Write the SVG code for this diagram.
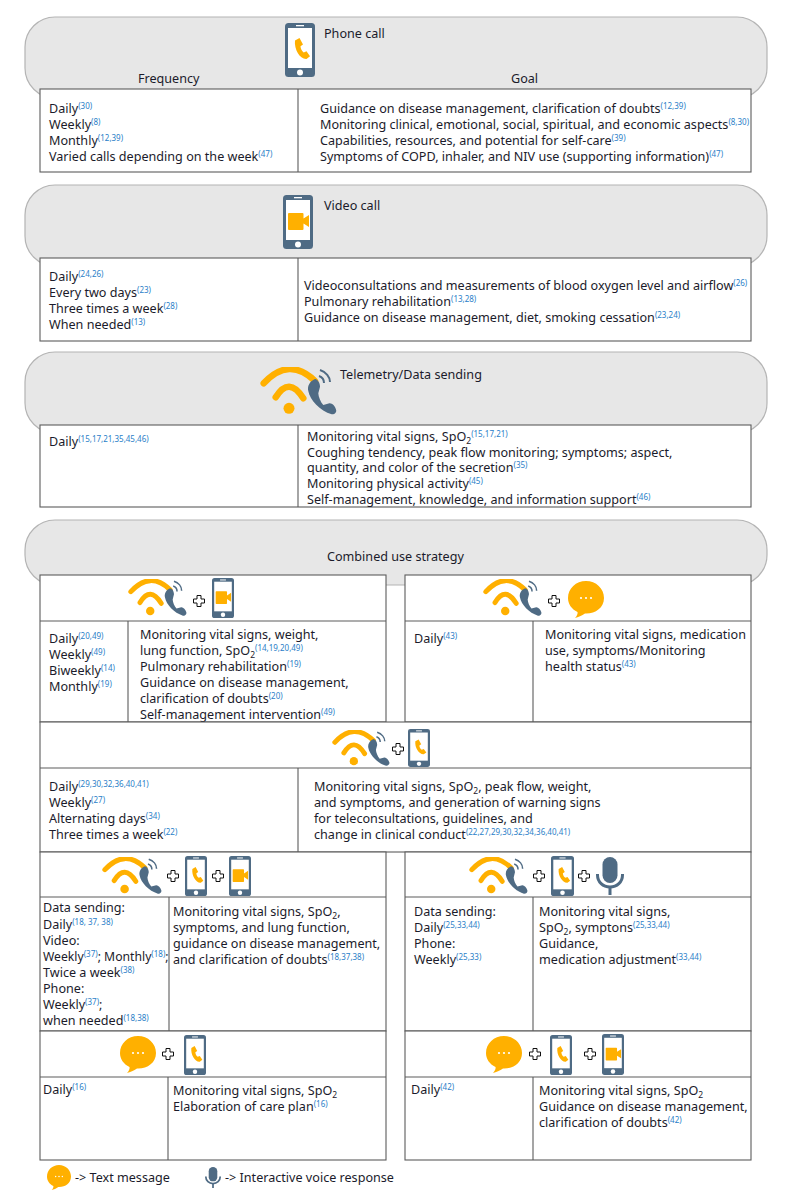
<svg xmlns="http://www.w3.org/2000/svg" width="788" height="1198" viewBox="0 0 788 1198">
<style>
text{font-family:"Noto Sans","Liberation Sans",sans-serif;font-size:12.6px;fill:#1b1b2b}
.r{font-size:8px;fill:#2a80c8}
.s{font-size:8.5px}
.panel{fill:#e7e7e7;stroke:#b4b4b4;stroke-width:1.2}
.box{fill:#fff;stroke:#5c5c5c;stroke-width:1.1}
.ln{fill:none;stroke:#5c5c5c;stroke-width:1.1}
</style>
<defs>
<symbol id="phone" viewBox="0 0 30 54" preserveAspectRatio="none">
<rect width="30" height="54" rx="3.5" fill="#4f6b84"/><rect x="3" y="5" width="24" height="40" fill="#fff"/><rect x="11" y="2" width="8" height="1.3" fill="#fff"/><circle cx="15" cy="49.5" r="3" fill="#fff"/>
<path d="M10 17.500l4.500-2.500 3.500 6.500-2.500 1.800c0 2.500 1.500 5 3.200 6.200l2.800-1.200 3.500 5-3.500 2.700c-6.500.5-12.500-9.500-11.500-18.500z" fill="#ffb000"/>
</symbol>
<symbol id="video" viewBox="0 0 30 54" preserveAspectRatio="none">
<rect width="30" height="54" rx="3.5" fill="#4f6b84"/><rect x="3" y="5" width="24" height="40" fill="#fff"/><rect x="11" y="2" width="8" height="1.3" fill="#fff"/><circle cx="15" cy="49.5" r="3" fill="#fff"/>
<path d="M6 18h13.500a1 1 0 0 1 1 1v4.500l5.500-3.500v12l-5.500-3.500v5.500a1 1 0 0 1-1 1H6a1 1 0 0 1-1-1V19a1 1 0 0 1 1-1z" fill="#ffb000"/>
</symbol>
<symbol id="wifi" viewBox="0 0 77 49" preserveAspectRatio="none">
<path d="M3.700 16.300Q29-11 55 14M15.700 30.300Q29 8.600 43.300 31.300" fill="none" stroke="#ffb000" stroke-width="6.500" stroke-linecap="round"/>
<circle cx="29" cy="41.300" r="5.500" fill="#ffb000"/>
<path d="M55 12C50 14 47 19 48.300 24C50 33 60 44 71.700 47.300C75 47.500 77 45 76 42.500C75 39 72 36 69.500 36.300L63.300 38C60.500 35 58.500 30 58.300 26.300L60 19.700C60 16 58 12.500 55 12z" fill="#4f6b84"/>
<path d="M60 3C66 5 70 10 70 15M59 9C62 10 64 13 64 16" fill="none" stroke="#4f6b84" stroke-width="2"/>
</symbol>
<symbol id="bubble" viewBox="0 0 36 37" preserveAspectRatio="none">
<path d="M18 0C28 0 36 7.500 36 17C36 27 27 33 17 32.500C14 34.500 10 36.500 7 37C9 35 10 32.500 9.500 31C3.500 28 0 23 0 17C0 7.500 8 0 18 0z" fill="#ffb000"/>
<circle cx="13" cy="17" r="1.100" fill="#fff"/><circle cx="18" cy="17" r="1.100" fill="#fff"/><circle cx="23" cy="17" r="1.100" fill="#fff"/>
</symbol>
<symbol id="mic" viewBox="0 0 28 38" preserveAspectRatio="none">
<rect x="6.500" y="0" width="15" height="26" rx="7.500" fill="#4f6b84"/>
<path d="M1.500 17V18C1.500 25 7 30 14 30S26.500 25 26.500 18V17" fill="none" stroke="#4f6b84" stroke-width="3"/>
<rect x="12.500" y="30" width="3" height="8" fill="#4f6b84"/>
</symbol>
<path id="plus" d="M-2-5.500H2V-2H5.500V2H2V5.500H-2V2H-5.500V-2H-2z" fill="#fff" stroke="#111" stroke-width="1"/>
</defs>
<rect width="788" height="1198" fill="#fff"/>

<g id="phone-call">
<rect class="panel" x="25" y="17" width="742" height="81" rx="30"/>
<use href="#phone" x="285" y="23" width="30" height="54"/>
<text x="324" y="38">Phone call</text>
<text x="138" y="83">Frequency</text>
<text x="511" y="83">Goal</text>
<rect class="box" x="40" y="89" width="711" height="83"/>
<path class="ln" d="M298 89V172"/>
<text x="49" y="112.500">Daily<tspan class="r" dy="-4">(30)</tspan></text>
<text x="49" y="128.500">Weekly<tspan class="r" dy="-4">(8)</tspan></text>
<text x="49" y="144.500">Monthly<tspan class="r" dy="-4">(12,39)</tspan></text>
<text x="49" y="160.500">Varied calls depending on the week<tspan class="r" dy="-4">(47)</tspan></text>
<text x="320" y="112.500">Guidance on disease management, clarification of doubts<tspan class="r" dy="-4">(12,39)</tspan></text>
<text x="320" y="128.500">Monitoring clinical, emotional, social, spiritual, and economic aspects<tspan class="r" dy="-4">(8,30)</tspan></text>
<text x="320" y="144.500">Capabilities, resources, and potential for self-care<tspan class="r" dy="-4">(39)</tspan></text>
<text x="320" y="160.500">Symptoms of COPD, inhaler, and NIV use (supporting information)<tspan class="r" dy="-4">(47)</tspan></text>
</g>

<g id="video-call">
<rect class="panel" x="25" y="185" width="742" height="81" rx="30"/>
<use href="#video" x="283" y="195" width="30" height="54"/>
<text x="324" y="210">Video call</text>
<rect class="box" x="40" y="258" width="711" height="83"/>
<path class="ln" d="M298 258V341"/>
<text x="49" y="280.500">Daily<tspan class="r" dy="-4">(24,26)</tspan></text>
<text x="49" y="296.500">Every two days<tspan class="r" dy="-4">(23)</tspan></text>
<text x="49" y="312.500">Three times a week<tspan class="r" dy="-4">(28)</tspan></text>
<text x="49" y="328.500">When needed<tspan class="r" dy="-4">(13)</tspan></text>
<text x="304" y="289.500">Videoconsultations and measurements of blood oxygen level and airflow<tspan class="r" dy="-4">(26)</tspan></text>
<text x="304" y="305.500">Pulmonary rehabilitation<tspan class="r" dy="-4">(13,28)</tspan></text>
<text x="304" y="321.500">Guidance on disease management, diet, smoking cessation<tspan class="r" dy="-4">(23,24)</tspan></text>
</g>

<g id="telemetry">
<rect class="panel" x="25" y="352" width="742" height="81" rx="30"/>
<use href="#wifi" x="260" y="367" width="77" height="49"/>
<text x="340" y="379">Telemetry/Data sending</text>
<rect class="box" x="40" y="425" width="711" height="82"/>
<path class="ln" d="M298 425V507"/>
<text x="49" y="445.500">Daily<tspan class="r" dy="-4">(15,17,21,35,45,46)</tspan></text>
<text x="307" y="440.500">Monitoring vital signs, SpO<tspan class="s" dy="3">2</tspan><tspan class="r" dy="-7">(15,17,21)</tspan></text>
<text x="307" y="456.500">Coughing tendency, peak flow monitoring; symptoms; aspect,</text>
<text x="307" y="471.500">quantity, and color of the secretion<tspan class="r" dy="-4">(35)</tspan></text>
<text x="307" y="487.500">Monitoring physical activity<tspan class="r" dy="-4">(45)</tspan></text>
<text x="307" y="503.500">Self-management, knowledge, and information support<tspan class="r" dy="-4">(46)</tspan></text>
</g>

<g id="combined-header">
<rect class="panel" x="25" y="520" width="742" height="65" rx="30"/>
<text x="327" y="561">Combined use strategy</text>
</g>

<g id="combo-telemetry-video">
<rect class="box" x="40" y="575" width="346" height="147"/>
<path class="ln" d="M40 621H386M128 621V722"/>
<use href="#wifi" x="128" y="579" width="59" height="38"/>
<use href="#plus" transform="translate(199 601)"/>
<use href="#video" x="212" y="578" width="22" height="40"/>
<text x="49" y="642.500">Daily<tspan class="r" dy="-4">(20,49)</tspan></text>
<text x="49" y="658.500">Weekly<tspan class="r" dy="-4">(49)</tspan></text>
<text x="49" y="674.500">Biweekly<tspan class="r" dy="-4">(14)</tspan></text>
<text x="49" y="690.500">Monthly<tspan class="r" dy="-4">(19)</tspan></text>
<text x="140" y="638.500">Monitoring vital signs, weight,</text>
<text x="140" y="654.500">lung function, SpO<tspan class="s" dy="3">2</tspan><tspan class="r" dy="-7">(14,19,20,49)</tspan></text>
<text x="140" y="670.500">Pulmonary rehabilitation<tspan class="r" dy="-4">(19)</tspan></text>
<text x="140" y="686.500">Guidance on disease management,</text>
<text x="140" y="702.500">clarification of doubts<tspan class="r" dy="-4">(20)</tspan></text>
<text x="140" y="718.500">Self-management intervention<tspan class="r" dy="-4">(49)</tspan></text>
</g>

<g id="combo-telemetry-text">
<rect class="box" x="405" y="575" width="346" height="147"/>
<path class="ln" d="M405 621H751M533 621V723.500M405 722V723.500H533"/>
<use href="#wifi" x="483" y="579" width="59" height="38"/>
<use href="#plus" transform="translate(554 601)"/>
<use href="#bubble" x="568" y="581" width="36" height="37"/>
<text x="414" y="642.500">Daily<tspan class="r" dy="-4">(43)</tspan></text>
<text x="545" y="638.500">Monitoring vital signs, medication</text>
<text x="545" y="654.500">use, symptoms/Monitoring</text>
<text x="545" y="670.500">health status<tspan class="r" dy="-4">(43)</tspan></text>
</g>

<g id="combo-telemetry-phone">
<rect class="box" x="40" y="722" width="711" height="130"/>
<path class="ln" d="M40 768H751M298 768V852"/>
<use href="#wifi" x="332" y="730" width="58" height="37"/>
<use href="#plus" transform="translate(398 749)"/>
<use href="#phone" x="408" y="729" width="22" height="38"/>
<text x="49" y="790.500">Daily<tspan class="r" dy="-4">(29,30,32,36,40,41)</tspan></text>
<text x="49" y="806.500">Weekly<tspan class="r" dy="-4">(27)</tspan></text>
<text x="49" y="822.500">Alternating days<tspan class="r" dy="-4">(34)</tspan></text>
<text x="49" y="838.500">Three times a week<tspan class="r" dy="-4">(22)</tspan></text>
<text x="314" y="790.500">Monitoring vital signs, SpO<tspan class="s" dy="3">2</tspan><tspan dy="-3">, peak flow, weight,</tspan></text>
<text x="314" y="806.500">and symptoms, and generation of warning signs</text>
<text x="314" y="822.500">for teleconsultations, guidelines, and</text>
<text x="314" y="838.500">change in clinical conduct<tspan class="r" dy="-4">(22,27,29,30,32,34,36,40,41)</tspan></text>
</g>

<g id="combo-telemetry-phone-video">
<rect class="box" x="40" y="852" width="346" height="179"/>
<path class="ln" d="M40 897H386M169 897V1031"/>
<use href="#wifi" x="102" y="857" width="60" height="38"/>
<use href="#plus" transform="translate(173 876)"/>
<use href="#phone" x="185" y="856" width="22" height="40"/>
<use href="#plus" transform="translate(218 876)"/>
<use href="#video" x="229" y="856" width="22" height="40"/>
<text x="43" y="912">Data sending:</text>
<text x="43" y="929">Daily<tspan class="r" dy="-4">(18, 37, 38)</tspan></text>
<text x="43" y="945">Video:</text>
<text x="43" y="961" style="font-size:12.2px">Weekly<tspan class="r" dy="-4">(37)</tspan><tspan dy="4">; Monthly</tspan><tspan class="r" dy="-4">(18)</tspan><tspan dy="4">;</tspan></text>
<text x="43" y="977">Twice a week<tspan class="r" dy="-4">(38)</tspan></text>
<text x="43" y="993">Phone:</text>
<text x="43" y="1009">Weekly<tspan class="r" dy="-4">(37)</tspan><tspan dy="4">;</tspan></text>
<text x="43" y="1025">when needed<tspan class="r" dy="-4">(18,38)</tspan></text>
<text x="173" y="915.500">Monitoring vital signs, SpO<tspan class="s" dy="3">2</tspan><tspan dy="-3">,</tspan></text>
<text x="173" y="931.500">symptoms, and lung function,</text>
<text x="173" y="947.500">guidance on disease management,</text>
<text x="173" y="963.500">and clarification of doubts<tspan class="r" dy="-4">(18,37,38)</tspan></text>
</g>

<g id="combo-telemetry-phone-voice">
<rect class="box" x="405" y="852" width="346" height="179"/>
<path class="ln" d="M405 897H751M533 897V1031"/>
<use href="#wifi" x="469" y="857" width="59" height="38"/>
<use href="#plus" transform="translate(539 876)"/>
<use href="#phone" x="551" y="856" width="23" height="40"/>
<use href="#plus" transform="translate(584 876)"/>
<use href="#mic" x="596" y="857" width="28" height="38"/>
<text x="414" y="915.500">Data sending:</text>
<text x="414" y="931.500">Daily<tspan class="r" dy="-4">(25,33,44)</tspan></text>
<text x="414" y="947.500">Phone:</text>
<text x="414" y="963.500">Weekly<tspan class="r" dy="-4">(25,33)</tspan></text>
<text x="539" y="915.500">Monitoring vital signs,</text>
<text x="539" y="931.500">SpO<tspan class="s" dy="3">2</tspan><tspan dy="-3">, symptons</tspan><tspan class="r" dy="-4">(25,33,44)</tspan></text>
<text x="539" y="947.500">Guidance,</text>
<text x="539" y="963.500">medication adjustment<tspan class="r" dy="-4">(33,44)</tspan></text>
</g>

<g id="combo-text-phone">
<rect class="box" x="40" y="1031" width="346" height="129"/>
<path class="ln" d="M40 1077H386M168 1077V1160"/>
<use href="#bubble" x="120" y="1036" width="36" height="37"/>
<use href="#plus" transform="translate(168 1054)"/>
<use href="#phone" x="184" y="1035" width="22" height="40"/>
<text x="43" y="1093.500">Daily<tspan class="r" dy="-4">(16)</tspan></text>
<text x="173" y="1094.500">Monitoring vital signs, SpO<tspan class="s" dy="3">2</tspan></text>
<text x="173" y="1110.500">Elaboration of care plan<tspan class="r" dy="-4">(16)</tspan></text>
</g>

<g id="combo-text-phone-video">
<rect class="box" x="405" y="1031" width="346" height="129"/>
<path class="ln" d="M405 1077H751M533 1077V1160"/>
<use href="#bubble" x="486" y="1036" width="36" height="37"/>
<use href="#plus" transform="translate(535 1054)"/>
<use href="#phone" x="550" y="1035" width="22" height="40"/>
<use href="#plus" transform="translate(590 1054)"/>
<use href="#video" x="602" y="1034" width="22" height="41"/>
<text x="411" y="1093.500">Daily<tspan class="r" dy="-4">(42)</tspan></text>
<text x="539" y="1094.500">Monitoring vital signs, SpO<tspan class="s" dy="3">2</tspan></text>
<text x="539" y="1110.500">Guidance on disease management,</text>
<text x="539" y="1126.500">clarification of doubts<tspan class="r" dy="-4">(42)</tspan></text>
</g>

<g id="legend">
<use href="#bubble" x="47" y="1165" width="24" height="25"/>
<text x="75" y="1182">-&gt; Text message</text>
<use href="#mic" x="205" y="1167" width="16" height="21"/>
<text x="225" y="1182">-&gt; Interactive voice response</text>
</g>
<g id="connectors"/>
</svg>
